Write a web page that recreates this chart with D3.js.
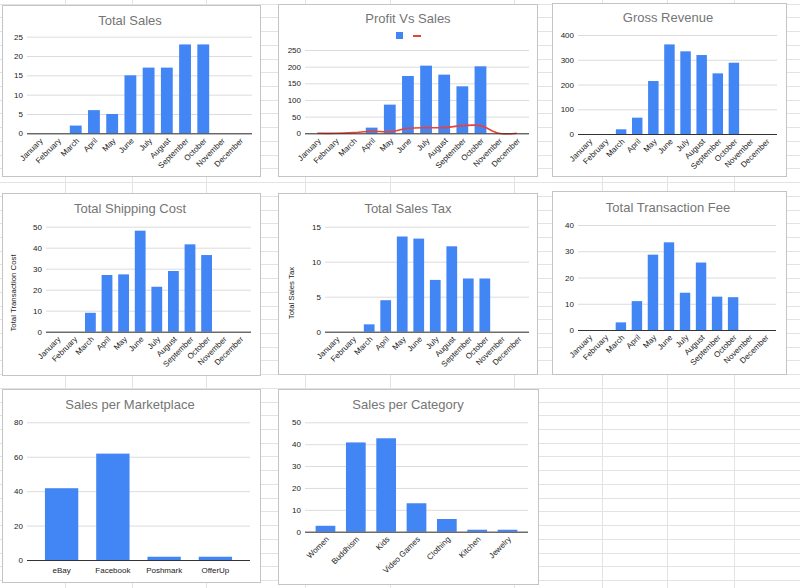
<!DOCTYPE html>
<html>
<head>
<meta charset="utf-8">
<script src="https://cdn.jsdelivr.net/npm/d3@7"></script>
<style>
  body { margin: 0; background: #fff; }
  svg { display: block; font-family: "Liberation Sans", Arial, sans-serif; }
  .title { fill: #757575; font-size: 13px; text-anchor: middle; }
  .tick text { fill: #222; font-size: 8px; }
  .axis-title { fill: #222; font-size: 7.8px; text-anchor: middle; }
</style>
</head>
<body>
<div id="sheet"></div>
<script>
// ---- data ----
const months = ['January', 'February', 'March', 'April', 'May', 'June', 'July',
  'August', 'September', 'October', 'November', 'December'];
const totalSales = [0, 0, 2, 6, 5, 15, 17, 17, 23, 23, 0, 0];
const profit = [0, 0, 0, 17, 86, 172, 203, 176, 141, 201, 0, 0];
const grossRevenue = [0, 0, 19, 66, 214, 362, 334, 319, 245, 288, 0, 0];
const shippingCost = [0, 0, 9, 27, 27.3, 48.1, 21.4, 28.9, 41.6, 36.5, 0, 0];
const salesTax = [0, 0, 1.05, 4.5, 13.6, 13.3, 7.4, 12.2, 7.6, 7.6, 0, 0];
const transactionFee = [0, 0, 2.9, 11, 28.7, 33.4, 14.2, 25.7, 12.7, 12.5, 0, 0];
const marketplaces = ['eBay', 'Facebook', 'Poshmark', 'OfferUp'];
const marketplaceSales = [41.7, 61.8, 1.9, 1.9];
const categories = ['Women', 'Buddhism', 'Kids', 'Video Games', 'Clothing', 'Kitchen', 'Jewelry'];
const categorySales = [2.7, 40.8, 42.7, 13, 5.8, 0.9, 0.9];

const ticks25 = [0, 5, 10, 15, 20, 25];
const ticks250 = [0, 50, 100, 150, 200, 250];
const ticks400 = [0, 100, 200, 300, 400];
const ticks50 = [0, 10, 20, 30, 40, 50];
const ticks15 = [0, 5, 10, 15];
const ticks40 = [0, 10, 20, 30, 40];
const ticks80 = [0, 20, 40, 60, 80];

const W = 800, H = 588;
const barColor = '#4285f4';
const lineColor = '#ea4335';

const svg = d3.select('#sheet').append('svg')
  .attr('width', W)
  .attr('height', H);

// spreadsheet grid behind the charts
const colLines = [65, 132, 206, 305, 390, 514, 602, 667, 734];
const grid = svg.append('g').attr('class', 'sheet-grid');
for (let yy = 3.7; yy < H; yy += 13.72) {
  grid.append('line')
    .attr('x1', 0).attr('x2', W)
    .attr('y1', Math.round(yy) + 0.5).attr('y2', Math.round(yy) + 0.5)
    .attr('stroke', '#e3e3e3');
}
colLines.forEach((cx) => {
  grid.append('line')
    .attr('x1', cx + 0.5).attr('x2', cx + 0.5)
    .attr('y1', 0).attr('y2', H)
    .attr('stroke', '#e3e3e3');
});

// one chart box
function drawPanel(cfg) {
  const g = svg.append('g').attr('class', 'panel');

  g.append('rect')
    .attr('x', cfg.box[0] + 0.5)
    .attr('y', cfg.box[1] + 0.5)
    .attr('width', cfg.box[2] - cfg.box[0])
    .attr('height', cfg.box[3] - cfg.box[1])
    .attr('fill', '#fff')
    .attr('stroke', '#c4c4c4');

  g.append('text')
    .attr('class', 'title')
    .attr('x', cfg.titlePos[0])
    .attr('y', cfg.titlePos[1])
    .text(cfg.title);

  const x = d3.scaleBand()
    .domain(cfg.labels)
    .range([cfg.left, cfg.right])
    .padding(0.35);

  const y = d3.scaleLinear()
    .domain([0, d3.max(cfg.ticks)])
    .range([cfg.zero, cfg.top]);

  // y axis + gridlines
  const yAxis = g.append('g')
    .attr('transform', `translate(${cfg.left},0)`)
    .call(d3.axisLeft(y)
      .tickValues(cfg.ticks)
      .tickFormat(d3.format('d'))
      .tickSize(-(cfg.right - cfg.left))
      .tickPadding(4));
  yAxis.select('.domain').remove();
  yAxis.selectAll('.tick line').attr('stroke', '#dcdcdc');

  if (cfg.yTitle) {
    g.append('text')
      .attr('class', 'axis-title')
      .attr('transform', `translate(${cfg.yTitle[1]},${cfg.yTitle[2]}) rotate(-90)`)
      .text(cfg.yTitle[0]);
  }

  // bars
  g.append('g')
    .selectAll('rect')
    .data(cfg.values)
    .enter()
    .append('rect')
    .attr('x', (d, i) => x(cfg.labels[i]))
    .attr('y', (d) => y(d))
    .attr('width', x.bandwidth())
    .attr('height', (d) => y(0) - y(d))
    .attr('fill', barColor);

  // smoothed line (Profit Vs Sales)
  if (cfg.line) {
    const line = d3.line()
      .x((d, i) => x(cfg.labels[i]) + x.bandwidth() / 2)
      .y((d) => y(d))
      .curve(d3.curveCatmullRom.alpha(0.5));
    g.append('path')
      .datum(cfg.line)
      .attr('d', line)
      .attr('fill', 'none')
      .attr('stroke', lineColor)
      .attr('stroke-width', 1.6);
  }

  // x axis
  const xAxis = g.append('g')
    .attr('transform', `translate(0,${cfg.zero})`)
    .call(d3.axisBottom(x).tickSize(0).tickPadding(6));
  xAxis.select('.domain')
    .attr('stroke', '#333')
    .attr('d', `M${cfg.left},0.5H${cfg.right}`);

  if (cfg.rotate) {
    xAxis.selectAll('.tick text')
      .attr('x', 0)
      .attr('y', 0)
      .attr('dy', 0)
      .attr('text-anchor', 'end')
      .attr('transform', 'translate(4,8) rotate(-45)');
  } else {
    xAxis.selectAll('.tick text').attr('dy', '0.9em');
  }

  return g;
}

drawPanel({
  title: 'Total Sales', titlePos: [130, 25], box: [2, 5, 260, 176],
  labels: months, values: totalSales, ticks: ticks25,
  left: 27, right: 252, top: 36.7, zero: 133.3, rotate: true,
});

const profitPanel = drawPanel({
  title: 'Profit Vs Sales', titlePos: [408, 23], box: [278, 4, 537, 176],
  labels: months, values: profit, ticks: ticks250, line: totalSales,
  left: 305, right: 529, top: 50, zero: 133.3, rotate: true,
});
// legend
profitPanel.append('rect')
  .attr('x', 396).attr('y', 32).attr('width', 7).attr('height', 7)
  .attr('fill', barColor);
profitPanel.append('line')
  .attr('x1', 413).attr('x2', 421).attr('y1', 36).attr('y2', 36)
  .attr('stroke', lineColor).attr('stroke-width', 2);

drawPanel({
  title: 'Gross Revenue', titlePos: [668, 22], box: [552, 3, 786, 176],
  labels: months, values: grossRevenue, ticks: ticks400,
  left: 578, right: 777, top: 35, zero: 134, rotate: true,
});

drawPanel({
  title: 'Total Shipping Cost', titlePos: [130, 213], box: [2, 193, 260, 375],
  labels: months, values: shippingCost, ticks: ticks50,
  yTitle: ['Total Transaction Cost', 16, 293],
  left: 46, right: 251, top: 226.7, zero: 331.7, rotate: true,
});

drawPanel({
  title: 'Total Sales Tax', titlePos: [408, 213], box: [278, 193, 537, 374],
  labels: months, values: salesTax, ticks: ticks15,
  yTitle: ['Total Sales Tax', 294, 293],
  left: 325, right: 529, top: 226.7, zero: 331.7, rotate: true,
});

drawPanel({
  title: 'Total Transaction Fee', titlePos: [668, 212], box: [552, 191, 786, 374],
  labels: months, values: transactionFee, ticks: ticks40,
  left: 578, right: 776, top: 225, zero: 330, rotate: true,
});

drawPanel({
  title: 'Sales per Marketplace', titlePos: [130, 409], box: [2, 389, 260, 582],
  labels: marketplaces, values: marketplaceSales, ticks: ticks80,
  left: 27, right: 250, top: 422.3, zero: 560, rotate: false,
});

drawPanel({
  title: 'Sales per Category', titlePos: [408, 409], box: [278, 389, 538, 584],
  labels: categories, values: categorySales, ticks: ticks50,
  left: 305, right: 528, top: 422.3, zero: 531.7, rotate: true,
});
</script>
</body>
</html>
